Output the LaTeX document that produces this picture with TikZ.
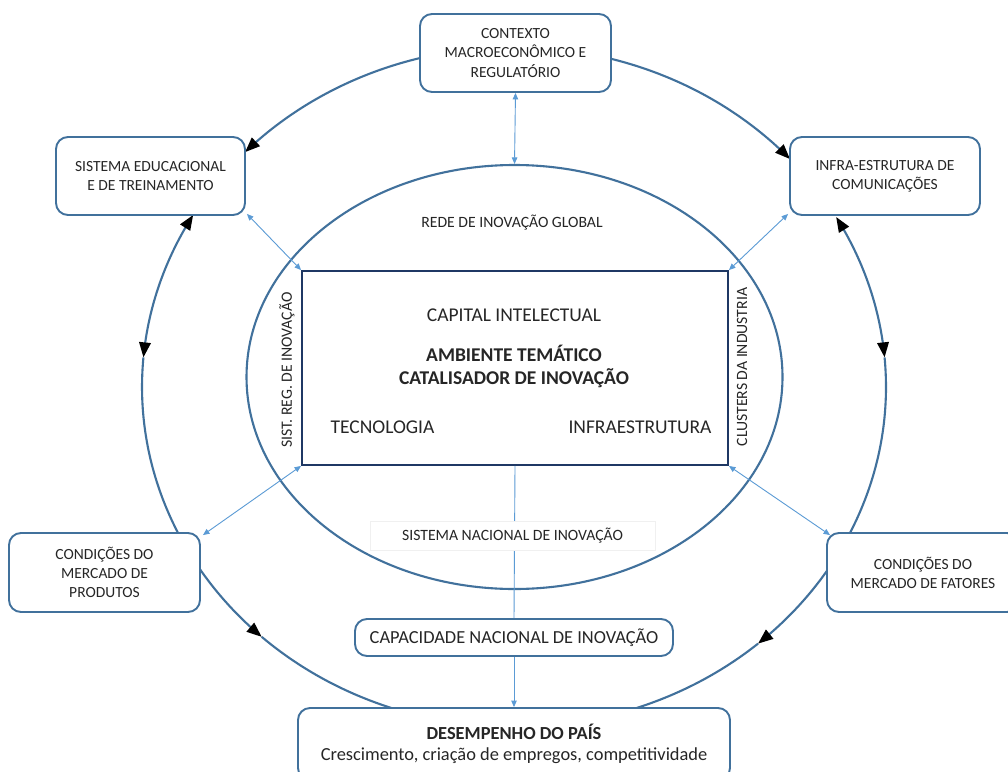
\documentclass[tikz,border=0pt]{standalone}
\usepackage{fontspec}
\setmainfont{Carlito}
\usetikzlibrary{arrows.meta,shapes.geometric}
\definecolor{frame}{HTML}{41719C}
\definecolor{navy}{HTML}{1F3864}
\definecolor{link}{HTML}{5B9BD5}
\definecolor{ink}{HTML}{262626}
\begin{document}
\begin{tikzpicture}[x=1pt,y=-1pt,
  box/.style={draw=frame, line width=1.9pt, rounded corners=12pt, fill=white,
    text=ink, align=center, inner sep=0pt, font=\fontsize{15.5}{19.2}\selectfont},
  wide/.style={font=\fontsize{18.4}{21.5}\selectfont},
  cycleline/.style={draw=frame, line width=2.1pt},
  headend/.style={-{Triangle[length=15pt,width=11.5pt,color=black]}},
  headboth/.style={{Triangle[length=15pt,width=11.5pt,color=black]}-{Triangle[length=15pt,width=11.5pt,color=black]}},
  tie/.style={draw=link, line width=0.9pt, {Triangle[length=6.5pt,width=5.5pt]}-{Triangle[length=6.5pt,width=5.5pt]}},
  feed/.style={draw=link, line width=0.9pt},
  lbl/.style={text=ink, font=\fontsize{15.7}{19}\selectfont},
  big/.style={text=ink, font=\fontsize{19.5}{23}\selectfont}]
\clip (0,0) rectangle (1008,771);
\fill[white] (0,0) rectangle (1008,771);

% outer cycle of influences (ellipse centre 514,387; radii 372,340)
\draw[cycleline, headend] plot[domain=100:136.3, samples=60, variable=\t] ({514+372*cos(\t)},{387-340*sin(\t)});
\draw[cycleline, headend] plot[domain=80:42.1, samples=60, variable=\t] ({514+372*cos(\t)},{387-340*sin(\t)});
\draw[cycleline, headboth] plot[domain=149.6:175, samples=40, variable=\t] ({514+372*cos(\t)},{387-340*sin(\t)});
\draw[cycleline] plot[domain=175:210, samples=40, variable=\t] ({514+372*cos(\t)},{387-340*sin(\t)});
\draw[cycleline, headboth] plot[domain=30:5, samples=40, variable=\t] ({514+372*cos(\t)},{387-340*sin(\t)});
\draw[cycleline] plot[domain=5:-28, samples=40, variable=\t] ({514+372*cos(\t)},{387-340*sin(\t)});
\draw[cycleline, headend] plot[domain=208:227.3, samples=40, variable=\t] ({514+372*cos(\t)},{387-340*sin(\t)});
\draw[cycleline] plot[domain=227.3:255, samples=40, variable=\t] ({514+372*cos(\t)},{387-340*sin(\t)});
\draw[cycleline, headend] plot[domain=-30:-49, samples=40, variable=\t] ({514+372*cos(\t)},{387-340*sin(\t)});
\draw[cycleline] plot[domain=-49:-75, samples=40, variable=\t] ({514+372*cos(\t)},{387-340*sin(\t)});

% inner ring and core
\node[ellipse, draw=frame, line width=2.1pt, minimum width=536pt, minimum height=424pt, inner sep=0pt] (ring) at (514.5,377) {};
\node[draw=navy, line width=1.9pt, minimum width=426pt, minimum height=194pt, inner sep=0pt] (core) at (515,368) {};

% outer boxes
\node[box, minimum width=191pt, minimum height=78pt] (ctx) at (515.5,53) {CONTEXTO\\MACROECONÔMICO E\\REGULATÓRIO};
\node[box, minimum width=189pt, minimum height=78pt] (edu) at (150.5,176) {SISTEMA EDUCACIONAL\\E DE TREINAMENTO};
\node[box, minimum width=190pt, minimum height=78pt] (com) at (885,176) {INFRA-ESTRUTURA DE\\COMUNICAÇÕES};
\node[box, minimum width=191pt, minimum height=79pt] (prod) at (104.5,572.5) {CONDIÇÕES DO\\MERCADO DE\\PRODUTOS};
\node[box, minimum width=192pt, minimum height=79pt] (fat) at (923,572.5) {CONDIÇÕES DO\\MERCADO DE FATORES};
\node[box, wide, minimum width=318pt, minimum height=37pt] (cap) at (514,637.5) {CAPACIDADE NACIONAL DE INOVAÇÃO};
\node[box, wide, minimum width=432pt, minimum height=72pt] (perf) at (514,744)
  {\textbf{DESEMPENHO DO PAÍS}\\Crescimento, criação de empregos, competitividade};

% links to the core
\draw[tie] (ctx.south) -- (ring.north);
\draw[tie] ([shift={(1,-2)}]edu.south east) -- (core.north west);
\draw[tie] ([shift={(-1,-2)}]com.south west) -- (core.north east);
\draw[tie] ([shift={(2,3)}]prod.north east) -- (core.south west);
\draw[tie] ([shift={(4,3)}]fat.north west) -- (core.south east);
\draw[feed] (core.south) -- (cap.north);
\draw[feed, -{Triangle[length=6.5pt,width=5.5pt]}] (cap.south) -- (perf.north);

% labels
\node[lbl] (glob) at (512,223) {REDE DE INOVAÇÃO GLOBAL};
\node[lbl, rotate=90] (reg) at (287,370) {SIST. REG. DE INOVAÇÃO};
\node[lbl, rotate=90] (clu) at (742,367) {CLUSTERS DA INDUSTRIA};
\node[lbl, fill=white, draw=black!6, line width=0.4pt, minimum width=285pt, minimum height=29pt] (nat) at (512.5,536) {SISTEMA NACIONAL DE INOVAÇÃO};
\node[big] (ic) at (514,315) {CAPITAL INTELECTUAL};
\node[big, font=\fontsize{19.5}{23}\selectfont\bfseries, align=center] (amb) at (514,366) {AMBIENTE TEMÁTICO\\CATALISADOR DE INOVAÇÃO};
\node[big] (tec) at (382.5,427) {TECNOLOGIA};
\node[big] (inf) at (640,427) {INFRAESTRUTURA};
\end{tikzpicture}
\end{document}
